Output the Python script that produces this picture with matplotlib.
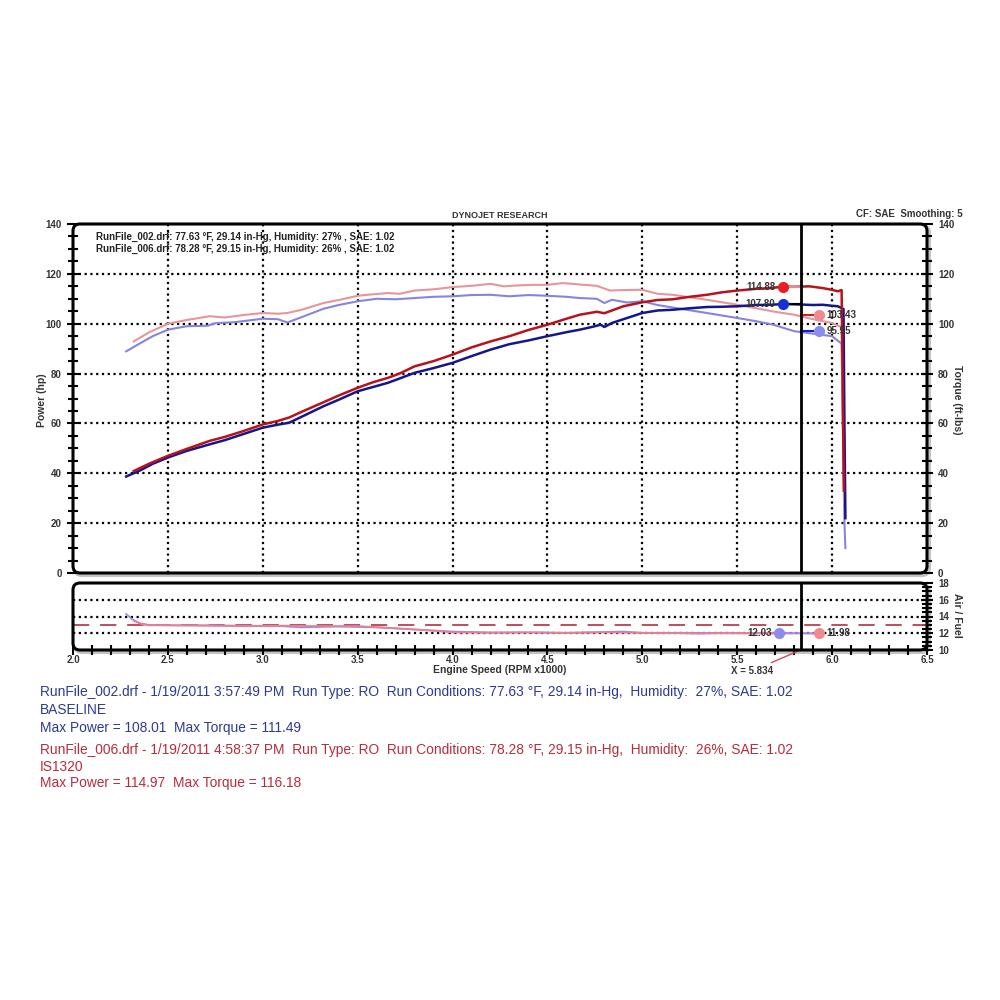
import matplotlib
matplotlib.use("Agg")
import matplotlib.pyplot as plt
from matplotlib.patches import FancyBboxPatch
from matplotlib.ticker import MultipleLocator, FormatStrFormatter

# ---------------- data ----------------
rpm_pw_006 = [2.32, 2.4, 2.5, 2.6, 2.72, 2.8, 2.9, 3.0, 3.08, 3.14, 3.2, 3.32, 3.4, 3.5, 3.58, 3.66,
              3.72, 3.8, 3.9, 4.0, 4.1, 4.2, 4.3, 4.4, 4.5, 4.6, 4.67, 4.76, 4.8, 4.84, 4.9, 5.0,
              5.08, 5.16, 5.25, 5.34, 5.42, 5.5, 5.6, 5.68, 5.74, 5.8, 5.88, 5.95, 6.0, 6.03,
              6.05, 6.058, 6.062]
pw_006 = [40.9, 43.8, 47.0, 49.8, 53.0, 54.6, 57.0, 59.6, 61.0, 62.4, 64.5, 68.5, 71.2, 74.3, 76.5,
          78.3, 80.0, 82.9, 85.0, 87.6, 90.5, 92.9, 95.0, 97.5, 99.6, 102.0, 103.6, 104.8, 104.2,
          105.3, 107.0, 108.6, 109.5, 109.8, 110.8, 111.6, 112.6, 113.3, 114.0, 114.3, 114.9,
          114.8, 115.0, 114.3, 113.6, 113.0, 113.5, 60.0, 33.0]

rpm_pw_002 = [2.28, 2.35, 2.42, 2.5, 2.6, 2.72, 2.8, 2.9, 3.0, 3.08, 3.14, 3.2, 3.32, 3.4, 3.5,
              3.58, 3.66, 3.72, 3.8, 3.9, 4.0, 4.1, 4.2, 4.3, 4.4, 4.5, 4.6, 4.67, 4.74, 4.78,
              4.8, 4.84, 4.9, 5.0, 5.08, 5.16, 5.25, 5.34, 5.42, 5.5, 5.6, 5.68, 5.74, 5.8,
              5.9, 5.95, 6.0, 6.03, 6.06, 6.065, 6.07]
pw_002 = [38.7, 41.0, 43.8, 46.3, 49.0, 51.6, 53.3, 55.8, 58.3, 59.5, 60.3, 62.5, 66.9, 69.5, 72.9,
          74.6, 76.3, 78.0, 80.3, 82.2, 84.3, 87.0, 89.6, 91.8, 93.3, 95.0, 96.6, 97.6, 98.8,
          99.6, 98.7, 100.3, 101.8, 104.3, 105.3, 105.6, 106.2, 106.7, 106.8, 107.0, 107.5,
          107.6, 107.9, 107.8, 107.5, 107.6, 107.2, 107.0, 105.9, 60.0, 22.0]

rpm_tq_006 = [2.32, 2.4, 2.5, 2.6, 2.72, 2.8, 2.9, 3.0, 3.08, 3.13, 3.2, 3.32, 3.4, 3.5, 3.58,
              3.66, 3.72, 3.8, 3.9, 4.0, 4.1, 4.2, 4.27, 4.33, 4.42, 4.5, 4.58, 4.66, 4.76, 4.83,
              4.9, 5.0, 5.08, 5.16, 5.25, 5.34, 5.42, 5.5, 5.6, 5.69, 5.8, 5.9, 6.0, 6.05,
              6.06, 6.065]
tq_006 = [92.9, 96.5, 100.0, 101.5, 103.0, 102.5, 103.5, 104.3, 104.0, 104.3, 105.5, 108.3, 109.5,
          111.2, 111.8, 112.3, 112.0, 113.3, 113.8, 114.7, 115.2, 116.0, 115.0, 115.3, 115.6,
          115.6, 116.3, 115.8, 115.2, 113.3, 113.5, 113.6, 112.0, 111.6, 110.6, 109.6, 108.6,
          107.6, 106.2, 104.9, 103.6, 101.8, 100.3, 98.6, 50.0, 28.0]

rpm_tq_002 = [2.28, 2.35, 2.42, 2.5, 2.6, 2.71, 2.75, 2.85, 3.0, 3.08, 3.13, 3.2, 3.32, 3.4, 3.5,
              3.6, 3.7, 3.8, 3.9, 4.0, 4.1, 4.2, 4.3, 4.4, 4.5, 4.6, 4.67, 4.76, 4.8, 4.84, 4.92,
              5.0, 5.08, 5.16, 5.25, 5.34, 5.42, 5.5, 5.6, 5.69, 5.8, 5.9, 6.0, 6.05, 6.06,
              6.065, 6.07]
tq_002 = [88.9, 92.0, 95.0, 97.6, 99.0, 99.2, 100.2, 100.6, 102.0, 101.8, 100.5, 102.5, 106.0,
          107.5, 109.0, 110.0, 109.8, 110.3, 110.8, 111.0, 111.5, 111.6, 111.0, 111.5, 111.2,
          110.8, 110.3, 110.0, 108.3, 109.6, 108.5, 109.0, 107.5, 106.5, 105.4, 104.3, 103.3,
          102.3, 101.0, 99.6, 97.0, 96.0, 95.0, 92.0, 40.0, 20.0, 10.0]

rpm_afr_002 = [2.28, 2.31, 2.35, 2.4, 2.5, 2.7, 2.9, 3.1, 3.2, 3.4, 3.6, 3.8, 4.0, 4.2, 4.4,
               4.6, 4.8, 4.9, 5.0, 5.2, 5.4, 5.6, 5.72]
afr_002 = [14.3, 13.7, 13.2, 13.0, 12.95, 12.95, 12.9, 12.85, 12.7, 12.8, 12.7, 12.45, 12.2,
           12.1, 12.1, 12.05, 12.15, 12.2, 12.05, 12.05, 12.03, 12.03, 12.03]
rpm_afr_006 = [2.32, 2.36, 2.4, 2.5, 2.7, 2.9, 3.1, 3.3, 3.5, 3.7, 3.9, 4.0, 4.2, 4.4, 4.6,
               4.8, 5.0, 5.2, 5.3, 5.4, 5.6, 5.8, 5.93]
afr_006 = [13.5, 13.1, 12.95, 12.95, 12.9, 12.85, 12.9, 12.85, 12.85, 12.6, 12.3, 12.1, 12.05,
           12.1, 12.05, 12.1, 12.05, 12.0, 11.95, 12.0, 11.98, 11.98, 11.98]
afr_target = 13.0

cursor_x = 5.834
marker_rpm_power = 5.74
marker_rpm_torque = 5.93
marker_pw = [114.88, 107.9]          # 006, 002
marker_pw_labels = ["114.88", "107.80"]
marker_tq = [103.5, 97.0]            # 006, 002
marker_tq_labels = ["103.43", "95.95"]
marker_afr_rpm = [5.72, 5.93]        # 002, 006
marker_afr = [12.03, 11.98]
marker_afr_labels = ["12.03", "11.98"]

legend_lines = ["RunFile_002.drf: 77.63 \u00b0F, 29.14 in-Hg, Humidity: 27% , SAE: 1.02",
                "RunFile_006.drf: 78.28 \u00b0F, 29.15 in-Hg, Humidity: 26% , SAE: 1.02"]
info_002 = ["RunFile_002.drf - 1/19/2011 3:57:49 PM  Run Type: RO  Run Conditions: 77.63 \u00b0F, 29.14 in-Hg,  Humidity:  27%, SAE: 1.02",
            "BASELINE",
            "Max Power = 108.01  Max Torque = 111.49"]
info_006 = ["RunFile_006.drf - 1/19/2011 4:58:37 PM  Run Type: RO  Run Conditions: 78.28 \u00b0F, 29.15 in-Hg,  Humidity:  26%, SAE: 1.02",
            "IS1320",
            "Max Power = 114.97  Max Torque = 116.18"]

# ---------------- style ----------------
C_PW6 = "#b8121c"
C_PW2 = "#14168c"
C_TQ6 = "#e8959a"
C_TQ2 = "#8585e0"
C_AFR6 = "#f07c8c"
C_AFR2 = "#9090ec"
C_BLUE_TXT = "#2c3a94"
C_RED_TXT = "#b82c3c"
SANS = ["Liberation Sans", "DejaVu Sans"]
TICKFONT = dict(family=SANS, size=7, weight="bold", color="#333333")

fig = plt.figure(figsize=(10, 10), dpi=100)
fig.patch.set_facecolor("white")

L, W = 0.073, 0.854
B1, H1 = 0.427, 0.349
B2, H2 = 0.350, 0.067
ax = fig.add_axes([L, B1, W, H1])
ax2 = fig.add_axes([L, B2, W, H2], sharex=ax)

grid_kw = dict(color="black", linestyle=(0, (1, 1.6)), linewidth=1.6)

# ---- main axes ----
ax.set_xlim(2.0, 6.5)
ax.set_ylim(0, 140)
ax.xaxis.set_major_locator(MultipleLocator(0.5))
ax.yaxis.set_major_locator(MultipleLocator(20))
ax.yaxis.set_minor_locator(MultipleLocator(5))
for xv in [2.5, 3.0, 3.5, 4.0, 4.5, 5.0, 5.5, 6.0]:
    ax.axvline(xv, zorder=1, **grid_kw)
for yv in [20, 40, 60, 80, 100, 120]:
    ax.axhline(yv, zorder=1, **grid_kw)
ax.tick_params(axis="x", which="both", length=0, labelbottom=False)
ax.tick_params(axis="y", which="both", direction="inout", left=True, right=True,
               labelleft=True, labelright=True, width=1.5, color="black")
ax.tick_params(axis="y", which="major", length=8, pad=4)
ax.tick_params(axis="y", which="minor", length=7)
for lab in ax.get_yticklabels():
    lab.set(**TICKFONT)
for s in ax.spines.values():
    s.set_visible(False)

ax.plot(rpm_tq_002, tq_002, color=C_TQ2, lw=1.5, zorder=3)
ax.plot(rpm_tq_006, tq_006, color=C_TQ6, lw=1.5, zorder=3)
ax.plot(rpm_pw_002, pw_002, color=C_PW2, lw=1.8, zorder=4)
ax.plot(rpm_pw_006, pw_006, color=C_PW6, lw=1.8, zorder=4)

ax.axvline(cursor_x, color="black", lw=2, zorder=6)

# markers + leader lines
ax.plot([marker_rpm_power, cursor_x], [marker_pw[0]] * 2, color="#e09090", lw=1.5, zorder=5)
ax.plot([marker_rpm_power, cursor_x], [marker_pw[1]] * 2, color="black", lw=1.5, zorder=5)
ax.plot([cursor_x, marker_rpm_torque], [marker_tq[0]] * 2, color="#d01c24", lw=1.5, zorder=5)
ax.plot([cursor_x, marker_rpm_torque], [marker_tq[1]] * 2, color="#1020c8", lw=1.5, zorder=5)
ax.plot([marker_rpm_power], [marker_pw[0]], "o", color="#e81e24", ms=7, zorder=7)
ax.plot([marker_rpm_power], [marker_pw[1]], "o", color="#1430d8", ms=7, zorder=7)
ax.plot([marker_rpm_torque], [marker_tq[0]], "o", color="#f08a8c", ms=7, zorder=7)
ax.plot([marker_rpm_torque], [marker_tq[1]], "o", color="#8c8cf0", ms=7, zorder=7)
lbl_kw = dict(family=SANS, size=7, weight="bold", color="#333333", va="center", zorder=8)
ax.text(marker_rpm_power - 0.04, marker_pw[0], marker_pw_labels[0], ha="right", **lbl_kw)
ax.text(marker_rpm_power - 0.04, marker_pw[1], marker_pw_labels[1], ha="right", **lbl_kw)
ax.text(marker_rpm_torque + 0.04, marker_tq[0], marker_tq_labels[0], ha="left", **lbl_kw)
ax.text(marker_rpm_torque + 0.04, marker_tq[1], marker_tq_labels[1], ha="left", **lbl_kw)

# run legend inside plot
for i, line in enumerate(legend_lines):
    ax.text(0.027, 0.962 - i * 0.034, line, transform=ax.transAxes, ha="left", va="center",
            family=SANS, size=7, weight="bold", color="#222222", zorder=8)

# ---- AFR axes ----
ax2.set_ylim(10, 18)
ax2.yaxis.set_minor_locator(MultipleLocator(0.5))
ax2.set_yticks([10, 12, 14, 16, 18])
ax2.xaxis.set_major_locator(MultipleLocator(0.5))
ax2.xaxis.set_minor_locator(MultipleLocator(0.1))
ax2.xaxis.set_major_formatter(FormatStrFormatter("%.1f"))
for yv in [12, 14, 16]:
    ax2.axhline(yv, zorder=1, **grid_kw)
ax2.tick_params(axis="y", which="both", direction="inout", left=False, right=True,
                labelleft=False, labelright=True, width=1.5)
ax2.tick_params(axis="y", which="major", length=8, pad=4)
ax2.tick_params(axis="y", which="minor", length=7)
ax2.tick_params(axis="x", which="both", direction="inout", width=1.5, bottom=True, top=False)
ax2.tick_params(axis="x", which="major", length=7, pad=0)
ax2.tick_params(axis="x", which="minor", length=7)
for lab in ax2.get_yticklabels() + ax2.get_xticklabels():
    lab.set(**TICKFONT)
for s in ax2.spines.values():
    s.set_visible(False)

ax2.axhline(afr_target, color="#b84050", lw=1.3, dashes=(9, 6), zorder=2)
ax2.plot(rpm_afr_002, afr_002, color=C_AFR2, lw=1.3, zorder=3)
ax2.plot(rpm_afr_006, afr_006, color=C_AFR6, lw=1.3, zorder=3)
ax2.plot(marker_afr_rpm, marker_afr, color="#9a8ae0", lw=1.2, zorder=3)
ax2.axvline(cursor_x, color="black", lw=2, zorder=6)
ax2.plot([marker_afr_rpm[0]], [marker_afr[0]], "o", color="#8c8cf0", ms=7, zorder=7)
ax2.plot([marker_afr_rpm[1]], [marker_afr[1]], "o", color="#f08a8c", ms=7, zorder=7)
ax2.text(marker_afr_rpm[0] - 0.04, marker_afr[0], marker_afr_labels[0], ha="right", **lbl_kw)
ax2.text(marker_afr_rpm[1] + 0.04, marker_afr[1], marker_afr_labels[1], ha="left", **lbl_kw)

ax2.annotate("X = 5.834", xy=(cursor_x, 10), xycoords="data",
             xytext=(0.752, 0.329), textcoords="figure fraction", ha="center", va="center",
             family=SANS, size=7, weight="bold", color="#333333",
             arrowprops=dict(arrowstyle="-", color="#d04a5a", lw=1.0, shrinkA=1, shrinkB=0))

# rounded frames with grey shadow
for (b, h) in [(B1, H1), (B2, H2)]:
    shadow = FancyBboxPatch((L + 0.002, b - 0.002), W, h,
                            boxstyle="round,pad=0,rounding_size=0.007",
                            transform=fig.transFigure, fill=False, ec="#c4c4c4", lw=3,
                            zorder=0)
    fig.add_artist(shadow)
    frame = FancyBboxPatch((L, b), W, h, boxstyle="round,pad=0,rounding_size=0.007",
                           transform=fig.transFigure, fill=False, ec="black", lw=2.2,
                           zorder=10)
    fig.add_artist(frame)

# axis titles
lab_kw = dict(family=SANS, size=7.5, weight="bold", color="#333333", ha="center", va="center")
fig.text(0.042, 0.600, "Power (hp)", rotation=90, **lab_kw)
fig.text(0.957, 0.600, "Torque (ft-lbs)", rotation=270, **lab_kw)
fig.text(0.957, 0.385, "Air / Fuel", rotation=270, **lab_kw)
fig.text(0.500, 0.330, "Engine Speed (RPM x1000)", **lab_kw)
fig.text(0.500, 0.784, "DYNOJET RESEARCH", **dict(lab_kw, size=6.5))
fig.text(0.963, 0.786, "CF: SAE  Smoothing: 5", **dict(lab_kw, size=7, ha="right"))

# bottom run info
ys_002 = [0.308, 0.290, 0.272]
ys_006 = [0.250, 0.233, 0.217]
for txt, yy in zip(info_002, ys_002):
    fig.text(0.040, yy, txt, family=SANS, size=9.9, color=C_BLUE_TXT, ha="left", va="center")
for txt, yy in zip(info_006, ys_006):
    fig.text(0.040, yy, txt, family=SANS, size=9.9, color=C_RED_TXT, ha="left", va="center")

fig.savefig("out.png", dpi=100, facecolor="white")
